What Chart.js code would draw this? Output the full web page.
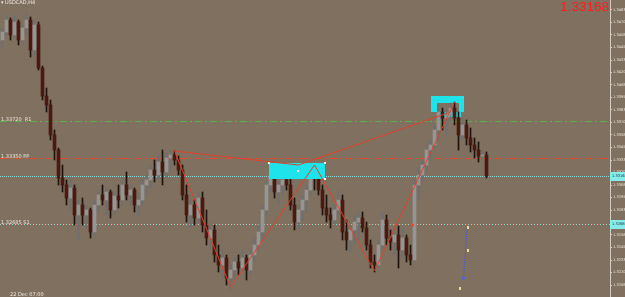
<!DOCTYPE html>
<html>
<head>
<meta charset="utf-8">
<script src="https://cdn.jsdelivr.net/npm/chart.js@4.4.0/dist/chart.umd.min.js"></script>
<style>
html,body{margin:0;padding:0;background:#80705f;}
#wrap{width:625px;height:297px;}
</style>
</head>
<body>
<div id="wrap"><canvas id="myChart" width="625" height="297"></canvas></div>
<script>
const symbol = 'USDCAD,H4';
const bidText = '1.33168';
const footText = '22 Dec 07:00';

const opens = [
1.3453,1.3461,1.3473,1.3458,1.3471,1.3453,1.3465,1.3473,1.3443,1.3468,
1.3425,1.3397,1.3388,1.3358,1.3343,1.3315,1.3308,1.3295,1.3305,1.3278,
1.3288,1.3278,1.3283,1.3261,1.3288,1.3298,1.3293,1.3301,1.3283,1.3297,
1.3293,1.3308,1.3298,1.3303,1.3288,1.3293,1.3308,1.3313,1.3323,1.3318,
1.3331,1.3321,1.3335,1.3338,1.3333,1.3323,1.3298,1.3278,1.3288,1.3275,
1.3295,1.3268,1.3255,1.3263,1.3238,1.3228,1.3235,1.3215,1.3223,1.3231,
1.3225,1.3235,1.3223,1.3238,1.3248,1.3261,1.3283,1.3308,1.3318,1.3301,
1.3308,1.3313,1.3308,1.3288,1.3271,1.3283,1.3293,1.3303,1.3321,1.3315,
1.3303,1.3285,1.3278,1.3273,1.3283,1.3293,1.3261,1.3253,1.3263,1.3271,
1.3275,1.3265,1.3248,1.3231,1.3228,1.3248,1.3273,1.3255,1.3251,1.3258,
1.3243,1.3255,1.3238,1.3233,1.3308,1.3318,1.3328,1.3343,1.3348,1.3363,
1.3381,1.3375,1.3378,1.3385,1.3375,1.3358,1.3368,1.3355,1.3348,1.3343,
1.3337,1.3338];
const highs = [
1.3465,1.3478,1.3475,1.3478,1.3473,1.3468,1.3480,1.3476,1.3473,1.3471,
1.3427,1.3405,1.3393,1.3363,1.3345,1.3328,1.3313,1.3315,1.3308,1.3293,
1.3295,1.3288,1.3285,1.3293,1.3303,1.3308,1.3305,1.3303,1.3301,1.3308,
1.3315,1.3321,1.3308,1.3305,1.3298,1.3313,1.3318,1.3328,1.3333,1.3338,
1.3343,1.3340,1.3343,1.3342,1.3337,1.3328,1.3308,1.3293,1.3293,1.3301,
1.3301,1.3283,1.3271,1.3268,1.3248,1.3243,1.3238,1.3228,1.3235,1.3238,
1.3243,1.3238,1.3243,1.3255,1.3268,1.3288,1.3313,1.3325,1.3325,1.3313,
1.3318,1.3321,1.3315,1.3295,1.3288,1.3298,1.3308,1.3325,1.3328,1.3323,
1.3308,1.3298,1.3285,1.3288,1.3303,1.3298,1.3273,1.3268,1.3278,1.3281,
1.3281,1.3271,1.3253,1.3238,1.3253,1.3280,1.3278,1.3263,1.3265,1.3267,
1.3265,1.3258,1.3248,1.3313,1.3325,1.3333,1.3348,1.3353,1.3368,1.3388,
1.3385,1.3383,1.3390,1.3391,1.3381,1.3375,1.3373,1.3365,1.3355,1.3351,
1.3343,1.3341];
const lows = [
1.3445,1.3458,1.3453,1.3455,1.3448,1.3448,1.3458,1.3436,1.3438,1.3423,
1.3393,1.3381,1.3353,1.3333,1.3308,1.3301,1.3288,1.3283,1.3268,1.3253,
1.3268,1.3265,1.3255,1.3257,1.3281,1.3288,1.3278,1.3275,1.3279,1.3285,
1.3288,1.3293,1.3288,1.3281,1.3276,1.3288,1.3298,1.3305,1.3311,1.3313,
1.3308,1.3315,1.3323,1.3328,1.3318,1.3293,1.3271,1.3265,1.3268,1.3271,
1.3261,1.3248,1.3243,1.3231,1.3221,1.3213,1.3208,1.3203,1.3213,1.3218,
1.3221,1.3213,1.3218,1.3231,1.3243,1.3253,1.3278,1.3301,1.3295,1.3288,
1.3298,1.3303,1.3283,1.3263,1.3265,1.3273,1.3281,1.3298,1.3303,1.3298,
1.3278,1.3271,1.3265,1.3268,1.3278,1.3253,1.3243,1.3241,1.3248,1.3253,
1.3261,1.3243,1.3225,1.3221,1.3223,1.3245,1.3248,1.3243,1.3238,1.3225,
1.3235,1.3231,1.3228,1.3231,1.3293,1.3311,1.3321,1.3333,1.3343,1.3353,
1.3363,1.3358,1.3371,1.3368,1.3343,1.3353,1.3348,1.3341,1.3335,1.3331,
1.3333,1.3315];
const closes = [
1.3461,1.3473,1.3458,1.3471,1.3453,1.3465,1.3473,1.3443,1.3468,1.3425,
1.3397,1.3388,1.3358,1.3343,1.3315,1.3308,1.3295,1.3305,1.3278,1.3288,
1.3278,1.3283,1.3261,1.3288,1.3298,1.3293,1.3301,1.3283,1.3297,1.3293,
1.3308,1.3298,1.3303,1.3288,1.3293,1.3308,1.3313,1.3323,1.3318,1.3331,
1.3321,1.3335,1.3338,1.3333,1.3323,1.3298,1.3278,1.3288,1.3275,1.3295,
1.3268,1.3255,1.3263,1.3238,1.3228,1.3235,1.3215,1.3223,1.3231,1.3225,
1.3235,1.3223,1.3238,1.3248,1.3261,1.3283,1.3308,1.3318,1.3301,1.3308,
1.3313,1.3308,1.3288,1.3271,1.3283,1.3293,1.3303,1.3321,1.3315,1.3303,
1.3285,1.3278,1.3273,1.3283,1.3293,1.3261,1.3253,1.3263,1.3271,1.3275,
1.3265,1.3248,1.3231,1.3228,1.3248,1.3273,1.3255,1.3251,1.3258,1.3243,
1.3255,1.3238,1.3233,1.3308,1.3318,1.3328,1.3343,1.3348,1.3363,1.3381,
1.3375,1.3378,1.3385,1.3375,1.3358,1.3368,1.3355,1.3348,1.3343,1.3337,
1.3338,1.33168];

const yTicks = [1.34830,1.34705,1.34580,1.34455,1.34330,1.34205,1.34080,1.33955,
1.33830,1.33705,1.33580,1.33455,1.33330,1.33205,1.33080,1.32955,1.32830,1.32705,
1.32580,1.32455,1.32330,1.32205,1.32080];
const yMin = 1.3196, yMax = 1.3493;

// horizontal levels: resistance, pivot, bid, support
const levelPrices = [1.3372, 1.3335, 1.33168, 1.32685];
const levelNotes = ['1.33720  R1', '1.33350 PP', '', '1.32685 S1'];

// zigzag and trend lines (bar index, price)
const zigzagIdx = [43, 57, 78, 93, 113];
const zigzagPrice = [1.3342, 1.3206, 1.3328, 1.3222, 1.3391];
const trendIdx = [[43, 74], [74, 112]];
const trendPrice = [[1.3342, 1.3328], [1.3328, 1.3381]];

// rectangles: [i0, i1, priceTop, priceBottom]
const zoneLow = [66.5, 80.5, 1.3330, 1.3314];
const zoneHigh = [107, 115.25, 1.3397, 1.3381];
const zoneHighInner = [108.5, 114, 1.3390, 1.3381];
const zoneHighStrip = [108.5, 114.5, 1.3381, 1.3376];

// marker column (index, price)
const markIdx = [116.2, 116.2, 115.25, 114];
const markPrice = [1.3266, 1.3243, 1.3215, 1.3205];

const upBody = '#959595', dnBody = '#4a1a12';
const upWick = '#6e6e6e', dnWick = '#1e120c';
const bull = closes.map((c, i) => c >= opens[i]);

const ctx = document.getElementById('myChart');

function fx(chart, i) { return chart.scales.x.getPixelForValue(i); }
function fy(chart, p) { return chart.scales.y.getPixelForValue(p); }

function rect(chart, r, color) {
	const g = chart.ctx;
	const x0 = Math.round(fx(chart, r[0])), x1 = Math.round(fx(chart, r[1]));
	const y0 = Math.round(fy(chart, r[2])), y1 = Math.round(fy(chart, r[3]));
	g.fillStyle = color;
	g.fillRect(x0, y0, x1 - x0, y1 - y0);
}

const paint = {
	id: 'paint',
	beforeDraw(chart) {
		const g = chart.ctx;
		g.save();
		g.fillStyle = '#80705f';
		g.fillRect(0, 0, chart.width, chart.height);
		g.restore();
	},
	beforeDatasetsDraw(chart) {
		const g = chart.ctx;
		const a = chart.chartArea;
		g.save();
		const styles = [
			{c: '#58b046', d: [7, 3, 2, 3]},
			{c: '#e8482c', d: [7, 3, 2, 3]},
			{c: '#8cd8d6', d: [1, 1]},
			{c: '#8cd8d6', d: [1, 2]}
		];
		levelPrices.forEach((p, k) => {
			const y = Math.round(fy(chart, p)) + 0.5;
			g.strokeStyle = styles[k].c;
			g.setLineDash(styles[k].d);
			g.lineWidth = 1;
			g.beginPath(); g.moveTo(a.left, y); g.lineTo(a.right, y); g.stroke();
			if (k == 3) {
				g.strokeStyle = '#e85a3a';
				g.lineDashOffset = 1.5;
				g.setLineDash([1, 5]);
				g.beginPath(); g.moveTo(a.left, y); g.lineTo(a.right, y); g.stroke();
				g.lineDashOffset = 0;
			}
		});
		g.setLineDash([]);
		// upper zone: frame + strip
		const cyan = '#1fe3ea';
		rect(chart, [zoneHigh[0], zoneHigh[1], zoneHigh[2], zoneHighInner[2]], cyan);
		rect(chart, [zoneHigh[0], zoneHighInner[0], zoneHighInner[2], zoneHigh[3]], cyan);
		rect(chart, [zoneHighInner[1], zoneHigh[1], zoneHighInner[2], zoneHigh[3]], cyan);
		rect(chart, zoneHighStrip, cyan);
		g.restore();
	},
	afterDatasetsDraw(chart) {
		const g = chart.ctx;
		g.save();
		rect(chart, zoneLow, '#1fe3ea');
		// small handles on the zone
		g.fillStyle = '#ffffff';
		[[zoneLow[0], zoneLow[2]], [zoneLow[1], zoneLow[2]], [zoneLow[1], zoneLow[3]]].forEach(h => {
			g.fillRect(Math.round(fx(chart, h[0])) - 1, Math.round(fy(chart, h[1])) - 1, 2, 2);
		});
		g.fillRect(Math.round(fx(chart, (zoneLow[0] + zoneLow[1]) / 2)), Math.round(fy(chart, (zoneLow[2] + zoneLow[3]) / 2)) - 1, 2, 2);

		g.strokeStyle = '#e2402a';
		g.lineWidth = 1;
		g.beginPath();
		zigzagIdx.forEach((i, k) => {
			const x = fx(chart, i), y = fy(chart, zigzagPrice[k]);
			if (k == 0) g.moveTo(x, y); else g.lineTo(x, y);
		});
		g.stroke();
		trendIdx.forEach((t, k) => {
			g.beginPath();
			g.moveTo(fx(chart, t[0]), fy(chart, trendPrice[k][0]));
			g.lineTo(fx(chart, t[1]), fy(chart, trendPrice[k][1]));
			g.stroke();
		});
		// red dot on support line
		g.fillStyle = '#ff3a20';
		g.beginPath(); g.arc(fx(chart, 102.5), fy(chart, levelPrices[3]) + 0.5, 1.6, 0, Math.PI * 2); g.fill();

		// marker column
		g.strokeStyle = '#3a56e8';
		g.setLineDash([1, 1]);
		g.beginPath();
		g.moveTo(fx(chart, markIdx[0]), fy(chart, markPrice[0]));
		g.lineTo(fx(chart, markIdx[2]), fy(chart, markPrice[2]));
		g.stroke();
		g.setLineDash([]);
		g.fillStyle = '#e8dc9a';
		[0, 1, 3].forEach(k => {
			g.fillRect(Math.round(fx(chart, markIdx[k])) , Math.round(fy(chart, markPrice[k])) - 1, 2, 3);
		});
		g.fillStyle = '#4060ff';
		g.beginPath(); g.arc(fx(chart, markIdx[2]), fy(chart, markPrice[2]), 1.5, 0, Math.PI * 2); g.fill();

		// level notes at the left edge
		g.font = '5px "DejaVu Sans"';
		g.fillStyle = '#ece4dc';
		g.textBaseline = 'middle';
		levelNotes.forEach((t, k) => {
			if (t) g.fillText(t, 1, Math.round(fy(chart, levelPrices[k])) - 1);
		});
		g.restore();
	},
	afterDraw(chart) {
		const g = chart.ctx;
		const a = chart.chartArea;
		g.save();
		// bid / support labels on the price axis
		[2, 3].forEach(k => {
			const y = Math.round(fy(chart, levelPrices[k]));
			g.fillStyle = '#86ecea';
			g.fillRect(a.right, y - 4, chart.width - a.right, 9);
			g.fillStyle = '#1c2a2a';
			g.font = '3.6px "DejaVu Sans"';
			g.textBaseline = 'middle';
			g.fillText(levelPrices[k].toFixed(5), a.right + 2, y + 0.5);
		});
		g.fillStyle = '#f2ece4';
		g.font = '5px "DejaVu Sans"';
		g.textBaseline = 'top';
		g.fillText('\u25BE ' + symbol, 1, 0);
		g.textBaseline = 'bottom';
		g.fillText(footText, 10, chart.height);
		g.fillStyle = '#ff1e1e';
		g.font = '13.5px "Liberation Sans"';
		g.textAlign = 'right';
		g.textBaseline = 'top';
		g.fillText(bidText, a.right - 1, 1);
		g.restore();
	}
};

let chart = new Chart(ctx, {
	type: 'bar',
	data: {
		datasets: [{
			label: 'wick',
			data: lows.map((l, i) => ({x: i, y: [l, highs[i]]})),
			backgroundColor: bull.map(b => b ? upWick : dnWick),
			barThickness: 1,
			grouped: false,
			order: 2
		}, {
			label: 'body',
			data: opens.map((o, i) => ({x: i, y: [o, closes[i]]})),
			backgroundColor: bull.map(b => b ? upBody : dnBody),
			borderWidth: 0,
			barThickness: 3,
			grouped: false,
			order: 1
		}]
	},
	options: {
		responsive: false,
		animation: false,
		layout: {padding: 0},
		plugins: {legend: {display: false}, tooltip: {enabled: false}},
		scales: {
			x: {
				type: 'linear',
				display: false,
				min: -0.625,
				max: 151.875,
				offset: false
			},
			y: {
				position: 'right',
				min: yMin,
				max: yMax,
				afterBuildTicks: s => { s.ticks = yTicks.map(v => ({value: v})); },
				afterFit: s => { s.width = 15; s.paddingTop = 0; s.paddingBottom = 0; },
				grid: {drawOnChartArea: false, tickLength: 2, color: '#d6cec4'},
				border: {display: true, color: '#d6cec4'},
				ticks: {
					font: {size: 3.6, family: 'DejaVu Sans'},
					color: '#ece4dc',
					padding: 1,
					autoSkip: false,
					callback: v => v.toFixed(5)
				}
			}
		}
	},
	plugins: [paint]
});
</script>
</body>
</html>
